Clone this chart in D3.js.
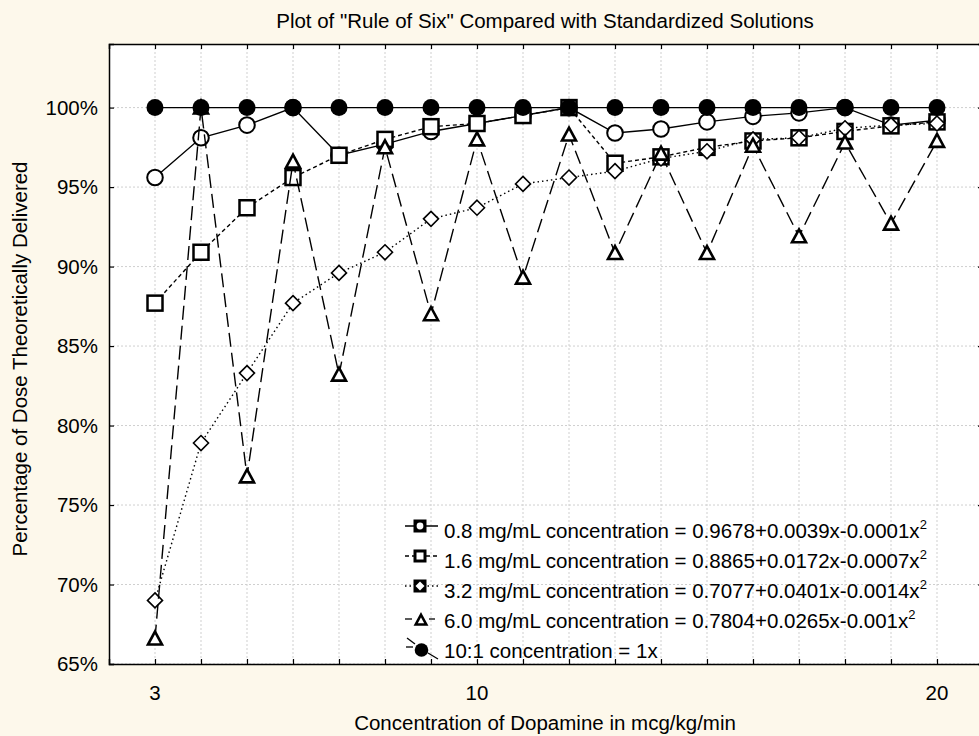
<!DOCTYPE html>
<html>
<head>
<meta charset="utf-8">
<script src="https://cdn.jsdelivr.net/npm/d3@7"></script>
<style>
  body { margin: 0; background: #fdf8eb; }
  svg { display: block; font-family: "Liberation Sans", Arial, sans-serif; }
</style>
</head>
<body>
<div id="chart"></div>
<script>
// dose rates (mcg/kg/min)
const doses = [3, 4, 5, 6, 7, 8, 9, 10, 11, 12, 13, 14, 15, 16, 17, 18, 19, 20];

// percentage of dose delivered
const conc08 = [95.6, 98.1, 98.9, 100, 97.0, 97.7, 98.5, 99.0, 99.5, 100, 98.4, 98.65, 99.1, 99.45, 99.67, 100, 98.9, 99.2];
const conc16 = [87.7, 90.9, 93.7, 95.6, 97.0, 98.0, 98.8, 99.0, 99.5, 100, 96.5, 96.9, 97.5, 97.9, 98.1, 98.5, 98.85, 99.1];
const conc32 = [69.0, 78.9, 83.3, 87.7, 89.6, 90.9, 93.0, 93.7, 95.2, 95.6, 96.0, 96.8, 97.25, 98.0, 98.1, 98.7, 98.9, 99.0];
const conc60 = [66.6, 100, 76.8, 96.6, 83.2, 97.5, 87.0, 98.0, 89.3, 98.3, 90.85, 97.1, 90.85, 97.6, 91.9, 97.8, 92.7, 97.9];
const conc10to1 = [100, 100, 100, 100, 100, 100, 100, 100, 100, 100, 100, 100, 100, 100, 100, 100, 100, 100];

const xTickLabels = [3, 10, 20];
const yTicks = [65, 70, 75, 80, 85, 90, 95, 100];

const legendLabels = [
  ["0.8 mg/mL concentration = 0.9678+0.0039x-0.0001x", "2"],
  ["1.6 mg/mL concentration = 0.8865+0.0172x-0.0007x", "2"],
  ["3.2 mg/mL concentration = 0.7077+0.0401x-0.0014x", "2"],
  ["6.0 mg/mL concentration = 0.7804+0.0265x-0.001x", "2"],
  ["10:1 concentration = 1x", ""]
];

const W = 979, H = 736;
const margin = {left: 109, top: 44, bottom: 72};
const fs = 20.5;

const svg = d3.select('#chart').append('svg')
  .attr('width', W).attr('height', H);

svg.append('rect').attr('width', W).attr('height', H).attr('fill', '#fdf8eb');

const x = d3.scaleLinear().domain([2, 21]).range([margin.left, margin.left + 19 * 46]);
const y = d3.scaleLinear().domain([65, 104]).range([H - margin.bottom, margin.top]);

const x0 = x.range()[0], x1 = x.range()[1], y0 = y.range()[0], y1 = y.range()[1];

svg.append('rect')
  .attr('x', x0).attr('y', y1)
  .attr('width', x1 - x0).attr('height', y0 - y1)
  .attr('fill', '#ffffff');

// grid
const grid = svg.append('g').attr('stroke', '#cfcfcf').attr('stroke-width', 1).attr('stroke-dasharray', '2,2');
grid.selectAll('.vg').data(d3.range(3, 21)).enter().append('line')
  .attr('x1', d => x(d)).attr('x2', d => x(d))
  .attr('y1', y1).attr('y2', y0);
grid.selectAll('.hg').data(yTicks).enter().append('line')
  .attr('y1', d => y(d)).attr('y2', d => y(d))
  .attr('x1', x0).attr('x2', x1);

// axes (ticks pointing inward on all four sides)
const xt = d3.range(3, 21);
svg.append('g').attr('transform', 'translate(0,' + y0 + ')')
  .call(d3.axisBottom(x).tickValues(xt).tickSize(-5).tickFormat(''));
svg.append('g').attr('transform', 'translate(0,' + y1 + ')')
  .call(d3.axisTop(x).tickValues(xt).tickSize(-5).tickFormat(''));
svg.append('g').attr('transform', 'translate(' + x0 + ',0)')
  .call(d3.axisLeft(y).tickValues(yTicks).tickSize(-5).tickFormat(''));
svg.append('g').attr('transform', 'translate(' + x1 + ',0)')
  .call(d3.axisRight(y).tickValues(yTicks).tickSize(-5).tickFormat(''));
svg.selectAll('.domain').attr('stroke', '#000').attr('stroke-width', 1.5);
svg.selectAll('.tick line').attr('stroke', '#000').attr('stroke-width', 1.2);

// tick labels
svg.selectAll('.xl').data(xTickLabels).enter().append('text')
  .attr('x', d => x(d)).attr('y', 700)
  .attr('text-anchor', 'middle').attr('font-size', fs).text(d => d);
svg.selectAll('.yl').data(yTicks).enter().append('text')
  .attr('x', x0 - 11).attr('y', d => y(d) + 7)
  .attr('text-anchor', 'end').attr('font-size', fs).text(d => d + '%');

// titles
svg.append('text').attr('x', 545).attr('y', 28).attr('text-anchor', 'middle')
  .attr('font-size', fs).text('Plot of "Rule of Six" Compared with Standardized Solutions');
svg.append('text').attr('x', 545).attr('y', 730).attr('text-anchor', 'middle')
  .attr('font-size', fs).text('Concentration of Dopamine in mcg/kg/min');
svg.append('text').attr('transform', 'translate(27,359) rotate(-90)').attr('text-anchor', 'middle')
  .attr('font-size', fs).text('Percentage of Dose Theoretically Delivered');

const series = [
  {vals: conc08, dash: null, shape: 'circle'},
  {vals: conc16, dash: '4,3', shape: 'square'},
  {vals: conc32, dash: '1.5,3', shape: 'diamond'},
  {vals: conc60, dash: '14,6', shape: 'triangle'},
  {vals: conc10to1, dash: null, shape: 'dot'}
];

const line = d3.line().x(d => x(d[0])).y(d => y(d[1]));

function drawMarker(g, shape, cx, cy, scale) {
  const s = scale || 1;
  if (shape === 'circle') {
    g.append('circle').attr('cx', cx).attr('cy', cy).attr('r', 7.8 * s)
      .attr('fill', '#fff').attr('stroke', '#000').attr('stroke-width', 2);
  } else if (shape === 'square') {
    g.append('rect').attr('x', cx - 7.5 * s).attr('y', cy - 7.5 * s)
      .attr('width', 15 * s).attr('height', 15 * s)
      .attr('fill', '#fff').attr('stroke', '#000').attr('stroke-width', 2.5);
  } else if (shape === 'diamond') {
    const r = 7.5 * s;
    g.append('path').attr('d', `M${cx},${cy - r}L${cx + r},${cy}L${cx},${cy + r}L${cx - r},${cy}Z`)
      .attr('fill', '#fff').attr('stroke', '#000').attr('stroke-width', 1.6);
  } else if (shape === 'triangle') {
    const r = 7 * s;
    g.append('path').attr('d', `M${cx},${cy - r}L${cx + r},${cy + r * 0.85}L${cx - r},${cy + r * 0.85}Z`)
      .attr('fill', '#fff').attr('stroke', '#000').attr('stroke-width', 2.6).attr('stroke-linejoin', 'miter');
  } else {
    g.append('circle').attr('cx', cx).attr('cy', cy).attr('r', 8.5 * s).attr('fill', '#000');
  }
}

const plot = svg.append('g');
series.forEach(s => {
  const g = plot.append('g');
  const pts = doses.map((d, i) => [d, s.vals[i]]);
  g.append('path').datum(pts).attr('d', line)
    .attr('fill', 'none').attr('stroke', '#000').attr('stroke-width', 1.4)
    .attr('stroke-dasharray', s.dash);
  pts.forEach(p => drawMarker(g, s.shape, x(p[0]), y(p[1])));
});

// legend
const legBase = [538, 568, 598, 628, 658];
const lg = svg.append('g');
series.forEach((s, i) => {
  const b = legBase[i];
  if (s.shape === 'dot') {
    lg.append('line').attr('x1', 407).attr('y1', b - 20).attr('x2', 415).attr('y2', b - 14)
      .attr('stroke', '#000').attr('stroke-width', 1.3);
    lg.append('line').attr('x1', 428).attr('y1', b - 5).attr('x2', 438).attr('y2', b + 1)
      .attr('stroke', '#000').attr('stroke-width', 1.3);
    lg.append('line').attr('x1', 406).attr('y1', b - 11).attr('x2', 413).attr('y2', b - 11)
      .attr('stroke', '#000').attr('stroke-width', 1.3);
    lg.append('circle').attr('cx', 421.5).attr('cy', b - 8).attr('r', 6.8).attr('fill', '#000');
  } else if (s.shape === 'triangle') {
    const cy = b - 9;
    lg.append('line').attr('x1', 405).attr('y1', cy).attr('x2', 412).attr('y2', cy)
      .attr('stroke', '#000').attr('stroke-width', 1.3);
    lg.append('line').attr('x1', 429).attr('y1', cy).attr('x2', 435).attr('y2', cy)
      .attr('stroke', '#000').attr('stroke-width', 1.3);
    drawMarker(lg, 'triangle', 421, cy + 1, 0.75);
  } else {
    const cy = b - 12;
    lg.append('line').attr('x1', 405).attr('y1', cy).attr('x2', 438).attr('y2', cy)
      .attr('stroke', '#000').attr('stroke-width', 1.3)
      .attr('stroke-dasharray', s.dash);
    lg.append('rect').attr('x', 413.5).attr('y', cy - 6.5).attr('width', 13).attr('height', 13).attr('fill', '#000');
    if (s.shape === 'circle') {
      lg.append('circle').attr('cx', 420).attr('cy', cy).attr('r', 3.4).attr('fill', '#fff');
    } else if (s.shape === 'square') {
      lg.append('rect').attr('x', 416.5).attr('y', cy - 3.5).attr('width', 7).attr('height', 7).attr('fill', '#fff');
    } else {
      lg.append('path').attr('d', `M420,${cy - 4.5}L424.5,${cy}L420,${cy + 4.5}L415.5,${cy}Z`).attr('fill', '#fff');
    }
  }
  const t = lg.append('text').attr('x', 444).attr('y', b).attr('font-size', fs);
  t.append('tspan').text(legendLabels[i][0]);
  if (legendLabels[i][1]) {
    t.append('tspan').attr('dy', -9).attr('font-size', 13).text(legendLabels[i][1]);
  }
});
</script>
</body>
</html>
